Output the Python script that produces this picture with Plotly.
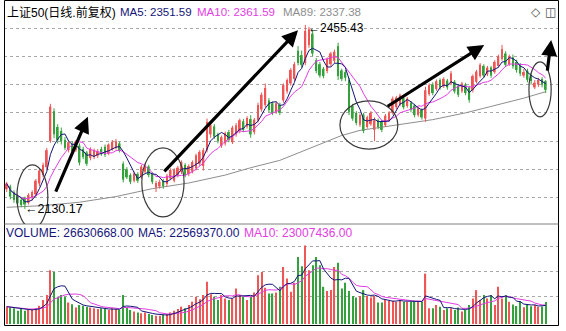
import numpy as np
import pandas as pd
import plotly.graph_objects as go

W, H = 566, 331
FONT = "Liberation Sans, Arial, Noto Sans CJK SC, sans-serif"

# ---- daily bars of the SSE 50 index (forward-adjusted), oldest first ----
opens = [2165, 2170, 2160, 2152, 2146, 2150, 2141, 2150, 2156, 2175,
         2190, 2204, 2250, 2303, 2275, 2268, 2252, 2234, 2246, 2234,
         2242, 2236, 2230, 2220, 2222, 2224, 2236, 2240, 2228, 2236,
         2238, 2246, 2210, 2200, 2190, 2180, 2192, 2186, 2196, 2205,
         2192, 2168, 2170, 2180, 2174, 2184, 2180, 2190, 2196, 2208,
         2192, 2196, 2202, 2210, 2206, 2234, 2262, 2276, 2262, 2242,
         2246, 2266, 2248, 2262, 2268, 2285, 2276, 2289, 2266, 2287,
         2306, 2314, 2322, 2317, 2302, 2314, 2322, 2338, 2352, 2360,
         2410, 2402, 2388, 2420, 2440, 2393, 2386, 2378, 2374, 2386,
         2392, 2418, 2375, 2372, 2358, 2312, 2300, 2279, 2297, 2275,
         2280, 2270, 2287, 2285, 2278, 2287, 2300, 2310, 2315, 2326,
         2312, 2318, 2313, 2296, 2305, 2290, 2333, 2350, 2342, 2358,
         2347, 2357, 2352, 2355, 2348, 2338, 2350, 2345, 2340, 2355,
         2365, 2383, 2368, 2380, 2372, 2383, 2395, 2405, 2386, 2398,
         2390, 2384, 2366, 2374, 2366, 2345, 2350, 2360, 2356]

highs = [2178, 2173, 2163, 2156, 2150, 2152, 2158, 2163, 2183, 2202,
         2212, 2238, 2316, 2308, 2280, 2274, 2257, 2251, 2250, 2252,
         2246, 2240, 2233, 2239, 2237, 2236, 2240, 2244, 2246, 2252,
         2254, 2249, 2214, 2204, 2193, 2196, 2195, 2208, 2210, 2208,
         2195, 2180, 2182, 2183, 2192, 2202, 2202, 2206, 2216, 2211,
         2209, 2216, 2228, 2234, 2238, 2290, 2282, 2280, 2265, 2260,
         2267, 2270, 2277, 2282, 2290, 2289, 2294, 2296, 2291, 2318,
         2336, 2352, 2326, 2320, 2320, 2318, 2352, 2361, 2379, 2390,
         2418, 2410, 2455.43, 2452, 2447, 2397, 2390, 2381, 2398, 2408,
         2412, 2424, 2378, 2376, 2362, 2316, 2303, 2299, 2300, 2295,
         2303, 2292, 2290, 2288, 2298, 2303, 2329, 2330, 2334, 2330,
         2328, 2321, 2316, 2311, 2308, 2346, 2352, 2354, 2359, 2361,
         2363, 2360, 2374, 2358, 2351, 2355, 2353, 2348, 2368, 2376,
         2388, 2386, 2383, 2383, 2393, 2403, 2420, 2409, 2403, 2403,
         2394, 2388, 2378, 2378, 2370, 2358, 2362, 2363, 2358]

lows = [2160, 2147, 2141, 2136, 2133, 2130.17, 2138, 2145, 2152, 2170,
        2186, 2200, 2247, 2255, 2246, 2244, 2234, 2230, 2228, 2231,
        2207, 2218, 2206, 2216, 2218, 2220, 2224, 2222, 2225, 2233,
        2235, 2230, 2177, 2183, 2174, 2177, 2176, 2183, 2193, 2186,
        2174, 2160, 2166, 2166, 2170, 2181, 2177, 2186, 2192, 2186,
        2188, 2193, 2198, 2206, 2198, 2230, 2256, 2254, 2246, 2238,
        2242, 2248, 2245, 2258, 2264, 2266, 2272, 2256, 2262, 2283,
        2302, 2310, 2301, 2296, 2298, 2296, 2318, 2334, 2348, 2356,
        2384, 2380, 2384, 2415, 2400, 2370, 2362, 2361, 2370, 2382,
        2388, 2358, 2356, 2356, 2296, 2286, 2278, 2275, 2264, 2272,
        2277, 2250, 2271, 2266, 2275, 2284, 2297, 2306, 2312, 2306,
        2309, 2301, 2292, 2293, 2288, 2284, 2330, 2331, 2339, 2341,
        2344, 2341, 2349, 2334, 2328, 2335, 2331, 2318, 2336, 2352,
        2362, 2362, 2365, 2362, 2369, 2380, 2392, 2381, 2383, 2378,
        2371, 2365, 2362, 2354, 2350, 2342, 2346, 2345, 2335]

closes = [2175, 2152, 2146, 2140, 2137, 2138, 2155, 2160, 2180, 2198,
          2208, 2234, 2311, 2262, 2252, 2250, 2238, 2248, 2232, 2249,
          2212, 2222, 2210, 2236, 2234, 2232, 2228, 2226, 2244, 2249,
          2250, 2233, 2182, 2186, 2178, 2193, 2180, 2205, 2207, 2190,
          2178, 2176, 2178, 2170, 2189, 2199, 2199, 2203, 2213, 2190,
          2206, 2213, 2225, 2231, 2234, 2284, 2278, 2258, 2250, 2257,
          2264, 2252, 2274, 2278, 2287, 2270, 2291, 2262, 2288, 2314,
          2332, 2344, 2305, 2300, 2317, 2300, 2349, 2358, 2376, 2386,
          2388, 2385, 2445, 2448, 2405, 2374, 2366, 2365, 2395, 2405,
          2408, 2365, 2360, 2362, 2302, 2290, 2282, 2296, 2268, 2292,
          2300, 2287, 2275, 2270, 2295, 2300, 2325, 2327, 2331, 2310,
          2325, 2305, 2296, 2308, 2292, 2340, 2349, 2335, 2356, 2345,
          2360, 2345, 2370, 2338, 2332, 2352, 2335, 2323, 2365, 2373,
          2385, 2366, 2380, 2366, 2390, 2400, 2413, 2385, 2400, 2382.3,
          2375.6, 2369.4, 2372.1, 2358.55, 2356.4, 2353.2, 2358.1, 2349.6, 2340.65]

# traded volume, millions of shares
volume_m = [21, 20, 19, 16, 18, 16, 17, 18, 19, 22,
            29, 35, 65, 63, 33, 35, 33, 26, 24, 20,
            23, 22, 21, 20, 19, 18, 19, 18, 17, 19,
            18, 17, 35, 20, 17, 15, 14, 13, 14, 12,
            11, 10, 10, 11, 12, 14, 16, 18, 21, 19,
            23, 27, 33, 30, 35, 51, 36, 33, 29, 35,
            31, 29, 31, 43, 35, 33, 29, 33, 38, 59,
            63, 44, 37, 37, 38, 45, 69, 55, 39, 50,
            81, 70, 95, 65, 71, 81, 71, 45, 40, 41,
            69, 74, 43, 50, 40, 34, 32, 34, 41, 34,
            32, 34, 26, 26, 30, 28, 28, 27, 29, 27,
            27, 27, 28, 27, 27, 61, 19, 19, 23, 21,
            17, 19, 19, 17, 20, 15, 17, 23, 31, 41,
            29, 35, 31, 35, 23, 45, 31, 35, 27, 23.5,
            21.8, 27.9, 20.2, 23.82751, 21.35, 22.84, 20.9, 21.126182, 26.630668]

# 89-day moving average, sampled at selected sessions
ma89_idx = [0, 10, 20, 30, 40, 50, 60, 67, 75, 84, 92, 97, 103, 107, 117, 126, 135, 142, 148]
ma89_val = [2133, 2136, 2142, 2152, 2166, 2176, 2190, 2203, 2216, 2239, 2260, 2269,
            2275, 2278, 2288, 2300, 2314, 2326, 2337.38]

# ---- derived series ----
o = np.array(opens, float)
h = np.array(highs, float)
l = np.array(lows, float)
c = np.array(closes, float)
vol = np.round(np.array(volume_m) * 1e6)
n = len(c)
idx = np.arange(n)
up = c >= o

ma5 = pd.Series(c).rolling(5, min_periods=1).mean().to_numpy()
ma10 = pd.Series(c).rolling(10, min_periods=1).mean().to_numpy()
vma5 = pd.Series(vol).rolling(5, min_periods=1).mean().to_numpy()
vma10 = pd.Series(vol).rolling(10, min_periods=1).mean().to_numpy()

RED = "#f05656"
GREEN = "#34a23c"
NAVY = "#14147a"
MAGENTA = "#e23ce2"
GREY = "#8e8e8e"

fig = go.Figure()

# 89-day line under the candles
fig.add_trace(go.Scatter(x=ma89_idx, y=ma89_val, mode="lines",
                         line=dict(color=GREY, width=1), yaxis="y", hoverinfo="skip"))


def wicks(mask):
    xs, ys = [], []
    for i in idx[mask]:
        xs += [i, i, None]
        ys += [l[i], h[i], None]
    return xs, ys


for mask, col in ((up, RED), (~up, GREEN)):
    wx, wy = wicks(mask)
    fig.add_trace(go.Scatter(x=wx, y=wy, mode="lines", line=dict(color=col, width=1),
                             yaxis="y", hoverinfo="skip"))
    body_lo = np.minimum(o, c)[mask]
    body_h = np.maximum(np.abs(c - o)[mask], 0.9)
    fig.add_trace(go.Bar(x=idx[mask], y=body_h, base=body_lo, width=0.5,
                         marker=dict(color=col, line=dict(width=0)), yaxis="y",
                         hoverinfo="skip"))

fig.add_trace(go.Scatter(x=idx, y=ma10, mode="lines", line=dict(color=MAGENTA, width=1),
                         yaxis="y", hoverinfo="skip"))
fig.add_trace(go.Scatter(x=idx, y=ma5, mode="lines", line=dict(color=NAVY, width=1),
                         yaxis="y", hoverinfo="skip"))

# volume panel
fig.add_trace(go.Bar(x=idx, y=vol, width=0.34,
                     marker=dict(color=[RED if u else GREEN for u in up], line=dict(width=0)),
                     yaxis="y2", hoverinfo="skip"))
fig.add_trace(go.Scatter(x=idx, y=vma10, mode="lines", line=dict(color=MAGENTA, width=1),
                         yaxis="y2", hoverinfo="skip"))
fig.add_trace(go.Scatter(x=idx, y=vma5, mode="lines", line=dict(color=NAVY, width=1),
                         yaxis="y2", hoverinfo="skip"))

# ---- axes ----
price_ticks = [2150, 2200, 2250, 2300, 2350, 2400, 2450]
vol_ticks = [32.7e6, 63.0e6, 93.2e6]
grid = dict(showgrid=True, gridcolor="#a8a8a8", griddash="dot", gridwidth=1,
            showticklabels=False, ticks="", zeroline=False, showline=False)

fig.update_layout(
    width=W, height=H, margin=dict(l=0, r=0, t=0, b=0),
    paper_bgcolor="white", plot_bgcolor="white",
    showlegend=False, barmode="overlay",
    xaxis=dict(domain=[4 / W, 559 / W], range=[-0.74, 151.65], showgrid=False,
               showticklabels=False, ticks="", zeroline=False, showline=False,
               anchor="y2"),
    yaxis=dict(domain=[1 - 224 / H, 1.0], range=[2103.5, 2499.5],
               tickvals=price_ticks, **grid),
    yaxis2=dict(domain=[1 - 325 / H, 1 - 224 / H], range=[-1.21e6, 121e6],
                tickvals=vol_ticks, **grid),
)

# ---- frame ----
shapes = [
    dict(type="rect", xref="paper", yref="paper", x0=4.5 / W, x1=558.5 / W,
         y0=1 - 325.5 / H, y1=1 - 0.5 / H, line=dict(color="black", width=1)),
    dict(type="line", xref="paper", yref="paper", x0=4.5 / W, x1=558.5 / W,
         y0=1 - 224 / H, y1=1 - 224 / H, line=dict(color="#808080", width=1)),
]

# hand-drawn ellipses around the turning zones (candle index, price)
for x0, x1, y0, y1 in ((2.8, 11.3, 2096, 2208), (37.1, 48.7, 2116, 2238),
                       (91.5, 107.4, 2236, 2321), (143.4, 149.5, 2293, 2390)):
    shapes.append(dict(type="circle", xref="x", yref="y", x0=x0, x1=x1, y0=y0, y1=y1,
                       line=dict(color="#3a3a3a", width=1.2)))
fig.update_layout(shapes=shapes)

ann = []
# trend arrows: (tail x, tail y, head x, head y)
for tx, ty, hx, hy in ((13.3, 2158, 22.3, 2293), (42.9, 2194, 80.0, 2446),
                       (104.2, 2310, 131.1, 2420), (148.4, 2372, 149.5, 2429)):
    ann.append(dict(x=hx, y=hy, ax=tx, ay=ty, xref="x", yref="y", axref="x", ayref="y",
                    text="", showarrow=True, arrowhead=2, arrowsize=1.0, arrowwidth=3.2,
                    arrowcolor="black"))

# extreme price markers
i_hi = int(np.argmax(h))
i_lo = int(np.argmin(l))
ann.append(dict(x=i_hi, y=h[i_hi], xref="x", yref="y", text=f"\u2190{h[i_hi]:.2f}",
                showarrow=False, xanchor="left", yanchor="middle", yshift=-3, xshift=1,
                font=dict(size=12, color="black", family=FONT)))
ann.append(dict(x=i_lo, y=l[i_lo], xref="x", yref="y", text=f"\u2190{l[i_lo]:.2f}",
                showarrow=False, xanchor="left", yanchor="middle", xshift=-2,
                font=dict(size=12.5, color="black", family=FONT)))

# price panel header
hy = 1 - 12.5 / H
for px, txt, col, sz in ((5, "上证50(日线.前复权)", "black", 12),
                         (118, f"MA5: {ma5[-1]:.2f}", NAVY, 11.5),
                         (195, f"MA10: {ma10[-1]:.2f}", MAGENTA, 11.5),
                         (281, f"MA89: {ma89_val[-1]:.2f}", GREY, 11.5)):
    ann.append(dict(x=px / W, y=hy, xref="paper", yref="paper", text=txt, showarrow=False,
                    xanchor="left", yanchor="middle", font=dict(size=sz, color=col, family=FONT)))

# panel icons
for px, txt in ((536, "\u25c7"), (550, "\u25eb")):
    ann.append(dict(x=px / W, y=hy, xref="paper", yref="paper", text=txt, showarrow=False,
                    xanchor="center", yanchor="middle",
                    font=dict(size=12, color="#555555", family="DejaVu Sans")))

# volume panel header
vy = 1 - 232.5 / H
for px, txt, col in ((4, f"VOLUME: {vol[-1]:.2f}", NAVY),
                     (136, f"MA5: {vma5[-1]:.2f}", NAVY),
                     (242, f"MA10: {vma10[-1]:.2f}", MAGENTA)):
    ann.append(dict(x=px / W, y=vy, xref="paper", yref="paper", text=txt, showarrow=False,
                    xanchor="left", yanchor="middle", font=dict(size=12, color=col, family=FONT)))

fig.update_layout(annotations=ann)

fig.write_html("out.html")
